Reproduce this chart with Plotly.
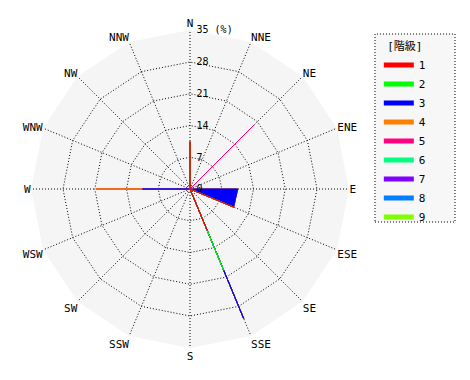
import plotly.graph_objects as go

directions = ["N", "NNE", "NE", "ENE", "E", "ESE", "SE", "SSE",
              "S", "SSW", "SW", "WSW", "W", "WNW", "NW", "NNW"]

class_names = ["1", "2", "3", "4", "5", "6", "7", "8", "9"]
class_colors = ["#ff0000", "#00ff00", "#0000ff", "#ff8000", "#ff0080",
                "#00ff80", "#8000ff", "#0080ff", "#80ff00"]

#            N     NNE  NE    ENE  E     ESE   SE   SSE   S    SSW  SW   WSW  W     WNW  NW   NNW
class1 = [10.4, 0,   0,    0,   0,    10.4, 0,   9.9,  0,   0,   0,   0,   0,    0,   0,   0]
class2 = [0,    0,   0,    0,   0,    0,    0,   9.5,  0,   0,   0,   0,   0,    0,   0,   0]
class3 = [0,    0,   0,    0,   10.5, 0,    0,   11.5, 0,   0,   0,   0,   10.5, 0,   0,   0]
class4 = [0,    0,   0,    0,   0,    0,    0,   0,    0,   0,   0,   0,   10.2, 0,   0,   0]
class5 = [0,    0,   20.0, 0,   0,    0,    0,   0,    0,   0,   0,   0,   0,    0,   0,   0]
class6 = [0] * 16
class7 = [0] * 16
class8 = [0] * 16
class9 = [0] * 16
classes = [class1, class2, class3, class4, class5, class6, class7, class8, class9]

radial_ticks = [0, 7, 14, 21, 28, 35]
radial_labels = ["0", "7", "14", "21", "28", "35 (%)"]

FONT = "DejaVu Sans Mono, Noto Sans CJK JP, monospace"
NBSP = "\u00a0"
# fixed-width labels so they sit just to the right of the north spoke
radial_text = [NBSP + t.ljust(6, NBSP) for t in radial_labels]

cum = []
run = [0.0] * 16
for c in classes:
    run = [a + b for a, b in zip(run, c)]
    cum.append(run)

fig = go.Figure()
for k in range(len(classes) - 1, -1, -1):
    r = cum[k] + [cum[k][0]]
    th = directions + [directions[0]]
    fig.add_trace(go.Scatterpolar(
        r=r, theta=th, mode="lines", fill="toself",
        fillcolor=class_colors[k], line=dict(color=class_colors[k], width=1),
        showlegend=False, hoverinfo="skip"))

for k, name in enumerate(class_names):
    fig.add_trace(go.Scatterpolar(
        r=[None], theta=[directions[0]], mode="lines", name=name,
        line=dict(color=class_colors[k], width=5), legendrank=k + 1))

fig.update_layout(
    width=470, height=380,
    margin=dict(l=0, r=0, t=0, b=0),
    paper_bgcolor="white",
    font=dict(family=FONT, size=11, color="black"),
    polar=dict(
        domain=dict(x=[0.066, 0.7426], y=[0.0842, 0.921]),
        bgcolor="#f5f5f5",
        gridshape="linear",
        angularaxis=dict(
            type="category", categoryorder="array", categoryarray=directions,
            direction="clockwise", rotation=90,
            showline=False, ticks="",
            gridcolor="black", griddash="1px,2px", gridwidth=1,
            tickfont=dict(size=11, color="black")),
        radialaxis=dict(
            range=[0, 35.05], angle=90, tickangle=90,
            tickmode="array", tickvals=radial_ticks, ticktext=radial_text,
            showline=False, ticks="",
            gridcolor="black", griddash="1px,2px", gridwidth=1,
            tickfont=dict(size=10, color="black")),
    ),
    legend=dict(
        x=0.806, y=0.905, xanchor="left", yanchor="top",
        bgcolor="rgba(0,0,0,0)",
        title=dict(text="[階級]", side="top center", font=dict(size=11)),
        font=dict(size=11), tracegroupgap=0, itemwidth=30),
    shapes=[dict(type="rect", xref="paper", yref="paper",
                 x0=375/470, x1=455/470, y0=1-222/380, y1=1-34/380,
                 line=dict(color="black", width=1, dash="1px,2px"),
                 fillcolor="#f7f7f7", layer="below")],
)

fig.write_html("out.html")
